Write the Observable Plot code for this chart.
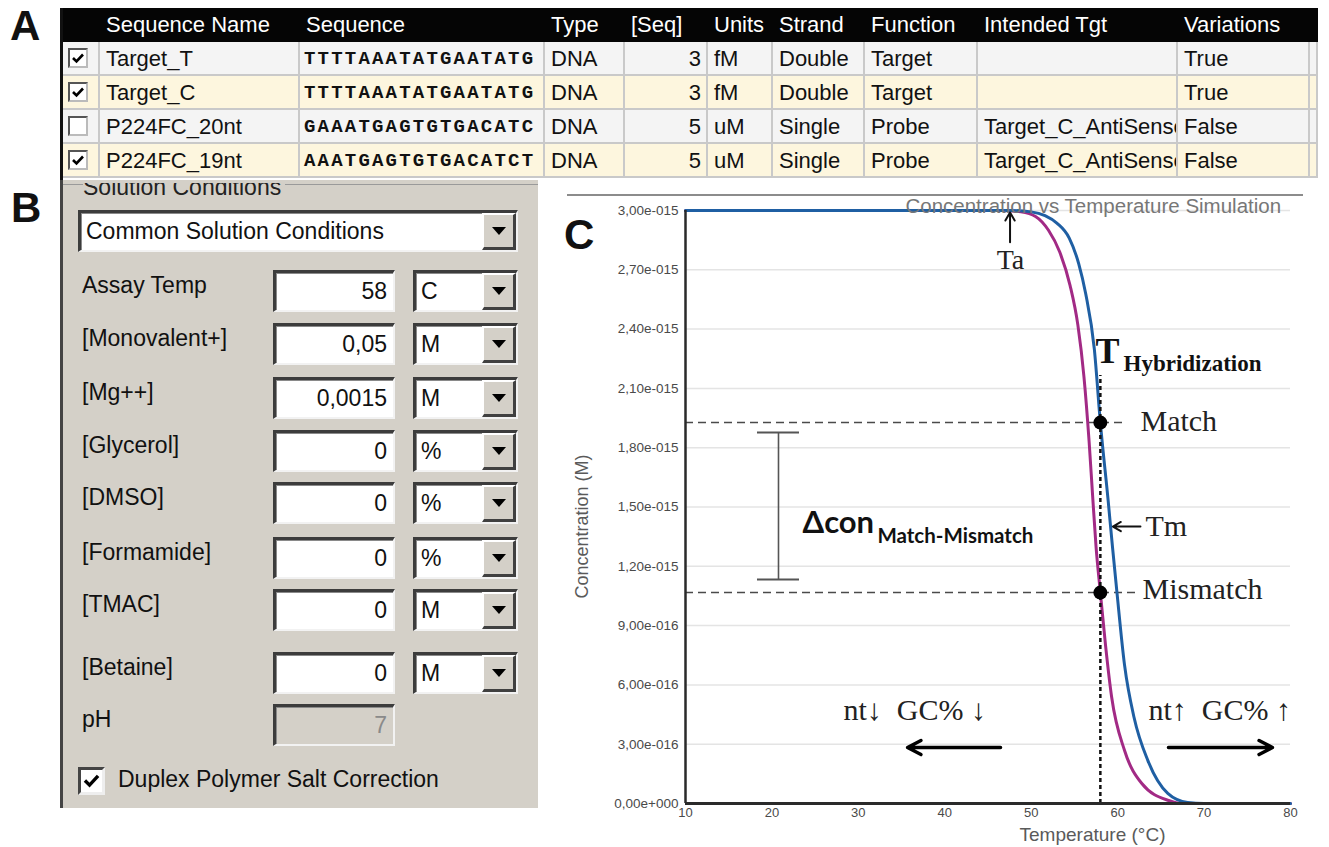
<!DOCTYPE html>
<html><head><meta charset="utf-8">
<script src="https://cdn.jsdelivr.net/npm/d3@7"></script>
<script src="https://cdn.jsdelivr.net/npm/@observablehq/plot@0.6"></script>
<style>
html,body{margin:0;padding:0;background:#fff;}
#root{position:relative;width:1329px;height:847px;overflow:hidden;font-family:"Liberation Sans",Arial,sans-serif;color:#111;}
#root div{box-sizing:border-box;}
.plabel{position:absolute;font-family:"Liberation Sans",Arial,sans-serif;font-weight:bold;font-size:42px;line-height:1;color:#111;}
.cell{position:absolute;height:34px;line-height:34px;font-size:22px;white-space:nowrap;overflow:hidden;padding-left:6px;border-right:2px solid #c9c9c9;border-bottom:2px solid #c9c9c9;}
.hcell{position:absolute;height:34px;line-height:34px;font-size:22px;white-space:nowrap;overflow:hidden;padding-left:6px;color:#fff;}
.seq{font-family:"Liberation Mono","Courier New",monospace;font-weight:bold;font-size:19px;letter-spacing:2.2px;padding-left:4px;}
.cb{position:absolute;background:#fff;border:2px solid #555;border-right-color:#bbb;border-bottom-color:#bbb;}
.blabel{position:absolute;font-size:23px;line-height:42px;white-space:nowrap;}
.tb{position:absolute;background:#fff;border-top:3px solid #3c3c3c;border-left:3px solid #3c3c3c;border-bottom:2px solid #f2f2f2;border-right:2px solid #f2f2f2;box-shadow:inset 1px 1px 0 #8a8a8a;font-size:23px;line-height:37px;white-space:nowrap;overflow:hidden;}
.btn{position:absolute;right:0;top:0;bottom:0;width:34px;background:#d4d0c8;border-top:2px solid #fff;border-left:2px solid #fff;border-bottom:3px solid #404040;border-right:3px solid #404040;}
.tri{position:absolute;left:50%;top:50%;margin-left:-7px;margin-top:-4px;width:0;height:0;border-left:7px solid transparent;border-right:7px solid transparent;border-top:8px solid #000;}
</style></head><body>
<div id="root"></div>
<script>
// ---------------- Panel A data ----------------
const tableHeaders = ["", "Sequence Name", "Sequence", "Type", "[Seq]", "Units", "Strand", "Function", "Intended Tgt", "Variations", ""];
const rowChecked = [true, true, false, true];
const seqNames = ["Target_T", "Target_C", "P224FC_20nt", "P224FC_19nt"];
const sequences = ["TTTTAAATATGAATATG", "TTTTAAATATGAATATG", "GAAATGAGTGTGACATC", "AAATGAGTGTGACATCT"];
const seqTypes = ["DNA", "DNA", "DNA", "DNA"];
const seqConc = [3, 3, 5, 5];
const seqUnits = ["fM", "fM", "uM", "uM"];
const strands = ["Double", "Double", "Single", "Single"];
const functions = ["Target", "Target", "Probe", "Probe"];
const intendedTgt = ["", "", "Target_C_AntiSense", "Target_C_AntiSense"];
const variations = ["True", "True", "False", "False"];

// ---------------- Panel B data ----------------
const presetName = "Common Solution Conditions";
const condLabels = ["Assay Temp", "[Monovalent+]", "[Mg++]", "[Glycerol]", "[DMSO]", "[Formamide]", "[TMAC]", "[Betaine]", "pH"];
const condValues = ["58", "0,05", "0,0015", "0", "0", "0", "0", "0", "7"];
const condUnits = ["C", "M", "M", "%", "%", "%", "M", "M", null];
const saltCorrection = "Duplex Polymer Salt Correction";

// ---------------- Panel C data (concentration in units of 1e-15 M) ----------------
const tempMatch = [10, 47.5, 50.0, 51.6, 53.0, 54.4, 55.5, 56.3, 57.3, 58.0, 58.9, 59.4, 59.9, 60.8, 61.9, 63.5, 65.8, 68.1, 70, 80];
const concMatch = [3.0, 3.0, 2.993, 2.974, 2.935, 2.86, 2.73, 2.58, 2.30, 1.927, 1.533, 1.30, 1.077, 0.70, 0.435, 0.217, 0.051, 0.005, 0, 0];
const tempMismatch = [10, 46.5, 48.8, 50.5, 52.0, 53.3, 54.5, 55.4, 56.1, 56.7, 57.1, 57.5, 58.0, 58.6, 59.3, 60.8, 62.8, 65.9, 67.4, 80];
const concMismatch = [3.0, 3.0, 2.993, 2.97, 2.90, 2.79, 2.62, 2.42, 2.16, 1.83, 1.56, 1.30, 1.067, 0.80, 0.54, 0.268, 0.101, 0.015, 0, 0];
const hybTemp = 58;
const matchConc = 1.927;
const mismatchConc = 1.067;
const xTicks = [10, 20, 30, 40, 50, 60, 70, 80];
const yTicks = [0, 0.3, 0.6, 0.9, 1.2, 1.5, 1.8, 2.1, 2.4, 2.7, 3.0];
const yTickLabels = ["0,00e+000", "3,00e-016", "6,00e-016", "9,00e-016", "1,20e-015", "1,50e-015", "1,80e-015", "2,10e-015", "2,40e-015", "2,70e-015", "3,00e-015"];
const chartTitle = "Concentration vs Temperature Simulation";
const xLabel = "Temperature (°C)";
const yLabel = "Concentration (M)";
// annotation anchors (data units)
const levelLines = [{c: matchConc, tEnd: 60.9}, {c: mismatchConc, tEnd: 62.3}];
const deltaBar = {t: 20.76, cLow: 1.133, cHigh: 1.877, tCap1: 18.33, tCap2: 23.19};
const serifNotes = [
  {text: "Match", t: 62.64, c: 1.882},
  {text: "Mismatch", t: 62.88, c: 1.037},
  {text: "Tm", t: 63.22, c: 1.351},
  {text: "nt\u2193\u00a0 GC% \u2193", t: 28.28, c: 0.42},
  {text: "nt\u2191\u00a0 GC% \u2191", t: 63.57, c: 0.42}
];
const taNote = {text: "Ta", t: 47.6, c: 2.706};
const hybNote = {big: "T", small: "Hybridization", t: 57.44, c: 2.226, tSmall: 60.68, cSmall: 2.19};
const deltaNote = {big: "\u0394con", small: "Match-Mismatch", t: 23.54, c: 1.366, tSmall: 32.21, cSmall: 1.32};
const smallArrows = [
  {t1: 47.55, c1: 2.84, t2: 47.55, c2: 2.99},
  {t1: 62.64, c1: 1.401, t2: 59.45, c2: 1.401}
];
const bigArrows = [
  {t1: 46.45, c1: 0.283, t2: 35.69, c2: 0.283},
  {t1: 65.88, c1: 0.283, t2: 77.92, c2: 0.283}
];

// ---------------- build layout ----------------
const root = document.getElementById("root");
function add(parent, cls, style, text) {
  const e = document.createElement("div");
  if (cls) e.className = cls;
  if (style) Object.assign(e.style, style);
  if (text != null) e.textContent = text;
  parent.appendChild(e);
  return e;
}
function checkSvg(size) {
  return `<svg width="${size}" height="${size}" viewBox="0 0 16 16" style="position:absolute;left:0;top:0"><polyline points="3,8 6.5,11.5 13,4.5" fill="none" stroke="#000" stroke-width="2.6"/></svg>`;
}

// panel letters
add(root, "plabel", {left: "10px", top: "5px"}, "A");
add(root, "plabel", {left: "11px", top: "187px"}, "B");
add(root, "plabel", {left: "564px", top: "214px"}, "C");

// Panel A table
const colEdges = [63, 100, 300, 545, 625, 708, 773, 865, 978, 1178, 1310, 1318];
const tableTop = 8, rowH = 34;
add(root, null, {position: "absolute", left: "60px", top: tableTop + "px", width: "1258px", height: "34px", background: "#050505"});
add(root, null, {position: "absolute", left: "60px", top: tableTop + "px", width: "3px", height: "174px", background: "#111"});
tableHeaders.forEach((h, j) => {
  add(root, "hcell", {left: colEdges[j] + "px", top: tableTop + "px", width: (colEdges[j + 1] - colEdges[j]) + "px"}, h);
});
seqNames.forEach((name, i) => {
  const top = tableTop + rowH * (i + 1);
  const bg = i % 2 === 0 ? "#f4f4f4" : "#fdf6de";
  const vals = ["", name, sequences[i], seqTypes[i], String(seqConc[i]), seqUnits[i], strands[i], functions[i], intendedTgt[i], variations[i], ""];
  vals.forEach((v, j) => {
    const c = add(root, "cell" + (j === 2 ? " seq" : ""), {left: colEdges[j] + "px", top: top + "px", width: (colEdges[j + 1] - colEdges[j]) + "px", background: bg}, v);
    if (j === 4) { c.style.textAlign = "right"; c.style.paddingRight = "5px"; }
    if (j === 0) {
      const cb = add(c, "cb", {left: "5px", top: "6px", width: "20px", height: "20px"});
      if (rowChecked[i]) cb.innerHTML = checkSvg(16);
    }
  });
});

// Panel B
add(root, null, {position: "absolute", left: "60px", top: "180px", width: "478px", height: "628px", background: "#d4d0c8", borderLeft: "3px solid #444"});
add(root, null, {position: "absolute", left: "63px", top: "184px", width: "20px", height: "1px", background: "#9a9a9a"});
add(root, null, {position: "absolute", left: "285px", top: "184px", width: "253px", height: "1px", background: "#9a9a9a"});
const grp = add(root, null, {position: "absolute", left: "83px", top: "183px", width: "205px", height: "18px", overflow: "hidden"});
add(grp, null, {position: "absolute", left: "0", top: "-7px", fontSize: "23px", lineHeight: "23px", whiteSpace: "nowrap", color: "#222"}, "Solution Conditions");

function dropdown(left, top, width, height, text) {
  const d = add(root, "tb", {left: left + "px", top: top + "px", width: width + "px", height: height + "px", paddingLeft: "5px"}, text);
  const b = add(d, "btn");
  add(b, "tri");
  return d;
}
dropdown(78, 210, 440, 42, presetName);
const rowTops = [270, 323, 377, 430, 482, 537, 589, 652, 704];
condLabels.forEach((lab, i) => {
  const top = rowTops[i];
  add(root, "blabel", {left: "82px", top: (top - 6) + "px"}, lab);
  const tb = add(root, "tb", {left: "273px", top: top + "px", width: "122px", height: "42px", textAlign: "right", paddingRight: "6px"}, condValues[i]);
  if (condUnits[i] == null) { tb.style.background = "#d4d0c8"; tb.style.color = "#8a8a8a"; }
  else dropdown(413, top, 105, 42, condUnits[i]);
});
const cb2 = add(root, "cb", {left: "78px", top: "767px", width: "27px", height: "28px", borderWidth: "3px", borderColor: "#444 #eee #eee #444"});
cb2.innerHTML = checkSvg(21);
add(root, "blabel", {left: "118px", top: "758px"}, saltCorrection);

// Panel C frame line above chart
add(root, null, {position: "absolute", left: "567px", top: "194px", width: "736px", height: "2px", background: "#8c8c8c"});

// ---------------- Plot ----------------
const matchData = tempMatch.map((t, i) => ({t, c: concMatch[i]}));
const mismatchData = tempMismatch.map((t, i) => ({t, c: concMismatch[i]}));
const serif = "Liberation Serif, Times New Roman, serif";
const sans = "Liberation Sans, Arial, sans-serif";

const chart = Plot.plot({
  width: 769,
  height: 662,
  marginLeft: 125,
  marginRight: 39,
  marginTop: 25,
  marginBottom: 44,
  style: {background: "transparent", fontFamily: sans, fontSize: "12px", color: "#4a4a4a", overflow: "visible"},
  x: {domain: [10, 80]},
  y: {domain: [0, 3]},
  marks: [
    Plot.gridY(yTicks, {stroke: "#e4e4e4", strokeOpacity: 1, strokeWidth: 1.5}),
    Plot.axisY(yTicks, {tickSize: 0, tickPadding: 7, tickFormat: d => yTickLabels[yTicks.indexOf(d)], label: null, fontSize: 13.5}),
    Plot.axisX(xTicks, {tickSize: 0, tickPadding: 4, label: null, fontSize: 13}),
    // dashed level lines
    Plot.ruleY(levelLines, {y: "c", x1: 10, x2: "tEnd", stroke: "#4a4a4a", strokeWidth: 1.5, strokeDasharray: "8,5"}),
    // delta error bar
    Plot.ruleX([deltaBar], {x: "t", y1: "cLow", y2: "cHigh", stroke: "#555", strokeWidth: 1.6}),
    Plot.ruleY([deltaBar.cLow, deltaBar.cHigh], {x1: deltaBar.tCap1, x2: deltaBar.tCap2, stroke: "#555", strokeWidth: 2}),
    // curves
    Plot.line(mismatchData, {x: "t", y: "c", stroke: "#a22a85", strokeWidth: 3, curve: "monotone-x"}),
    Plot.line(matchData, {x: "t", y: "c", stroke: "#1f5fa3", strokeWidth: 3, curve: "monotone-x"}),
    // hybridization temperature
    Plot.ruleX([hybTemp], {y1: 0, y2: 2.165, stroke: "#111", strokeWidth: 2.5, strokeDasharray: "4,3"}),
    Plot.dot([{t: hybTemp, c: matchConc}, {t: hybTemp, c: mismatchConc}], {x: "t", y: "c", r: 7, fill: "#000", stroke: "none"}),
    // axes lines
    Plot.ruleX([10], {stroke: "#2a2a2a", strokeWidth: 2.5}),
    Plot.ruleY([0], {stroke: "#2a2a2a", strokeWidth: 3}),
    // labels
    Plot.text([chartTitle], {x: 35.45, y: 2.985, text: d => d, textAnchor: "start", lineAnchor: "bottom", fontSize: 20.5, fill: "#777"}),
    Plot.text([xLabel], {x: 57.09, frameAnchor: "bottom", dy: 37, text: d => d, textAnchor: "middle", lineAnchor: "bottom", fontSize: 19, fill: "#5a5a5a"}),
    Plot.text([yLabel], {y: 1.401, frameAnchor: "left", dx: -103, text: d => d, rotate: -90, textAnchor: "middle", lineAnchor: "middle", fontSize: 18, fill: "#5a5a5a"}),
    // annotations
    Plot.text([taNote], {x: "t", y: "c", text: "text", lineAnchor: "bottom", fontSize: 28, fontFamily: serif, fill: "#222"}),
    Plot.text([hybNote], {x: "t", y: "c", text: "big", textAnchor: "start", lineAnchor: "bottom", fontSize: 36, fontWeight: "bold", fontFamily: serif, fill: "#111"}),
    Plot.text([hybNote], {x: "tSmall", y: "cSmall", text: "small", textAnchor: "start", lineAnchor: "bottom", fontSize: 23, fontWeight: "bold", fontFamily: serif, fill: "#111"}),
    Plot.text(serifNotes, {x: "t", y: "c", text: "text", textAnchor: "start", lineAnchor: "bottom", fontSize: 30, fontFamily: serif, fill: "#222"}),
    Plot.text([deltaNote], {x: "t", y: "c", text: "big", textAnchor: "start", lineAnchor: "bottom", fontSize: 31, fontWeight: "bold", fontFamily: "Lato, Open Sans, sans-serif", fill: "#111"}),
    Plot.text([deltaNote], {x: "tSmall", y: "cSmall", text: "small", textAnchor: "start", lineAnchor: "bottom", fontSize: 20.5, fontWeight: "bold", fontFamily: "Lato, Open Sans, sans-serif", fill: "#111"}),
    Plot.arrow(smallArrows, {x1: "t1", y1: "c1", x2: "t2", y2: "c2", stroke: "#111", strokeWidth: 2, headLength: 7, headAngle: 60}),
    Plot.arrow(bigArrows, {x1: "t1", y1: "c1", x2: "t2", y2: "c2", stroke: "#000", strokeWidth: 3.5, headLength: 6.5, headAngle: 55})
  ]
});
chart.style.position = "absolute";
chart.style.left = "560px";
chart.style.top = "185px";
root.appendChild(chart);
</script>
</body></html>
